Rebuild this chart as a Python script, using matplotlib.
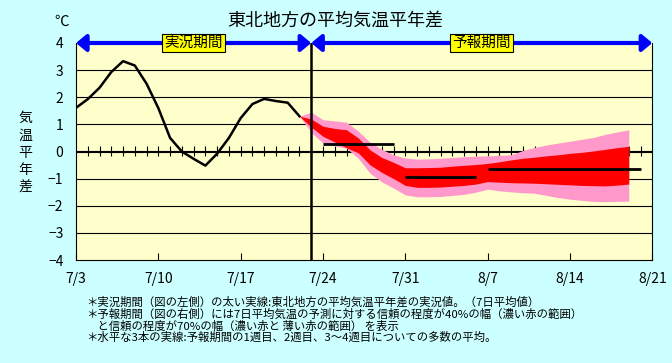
import matplotlib
matplotlib.use("Agg")
import matplotlib.pyplot as plt
from matplotlib.ticker import NullFormatter
import numpy as np

plt.rcParams['font.family'] = ['Noto Sans CJK JP', 'DejaVu Sans']

# ---- data (day index 0 = 7/3) ----
date_labels = ["7/3", "7/10", "7/17", "7/24", "7/31", "8/7", "8/14", "8/21"]
obs_vals = [1.61, 1.93, 2.35, 2.93, 3.33, 3.17, 2.50, 1.60, 0.50, 0.00,
            -0.27, -0.52, -0.08, 0.50, 1.23, 1.75, 1.94, 1.86, 1.80, 1.30]
fc_start = 19
p70_hi = [1.30, 1.45, 1.17, 1.13, 1.08, 0.75, 0.34, 0.08, -0.12, -0.24,
          -0.28, -0.27, -0.25, -0.22, -0.19, -0.17, -0.16, -0.14, -0.12, 0.04,
          0.15, 0.24, 0.31, 0.38, 0.45, 0.52, 0.63, 0.72, 0.80]
r40_hi = [1.30, 1.20, 0.93, 0.85, 0.80, 0.50, 0.06, -0.22, -0.40, -0.60,
          -0.60, -0.59, -0.58, -0.54, -0.51, -0.48, -0.44, -0.38, -0.31, -0.25,
          -0.21, -0.16, -0.12, -0.07, -0.03, 0.02, 0.08, 0.14, 0.19]
r40_lo = [1.30, 0.90, 0.56, 0.35, 0.14, -0.05, -0.49, -0.77, -1.00, -1.25,
          -1.32, -1.32, -1.31, -1.28, -1.25, -1.20, -1.11, -1.13, -1.15, -1.16,
          -1.17, -1.19, -1.21, -1.23, -1.25, -1.26, -1.27, -1.24, -1.20]
p70_lo = [1.30, 0.70, 0.31, 0.20, 0.12, -0.25, -0.80, -1.12, -1.35, -1.60,
          -1.67, -1.67, -1.66, -1.62, -1.58, -1.50, -1.39, -1.45, -1.49, -1.52,
          -1.54, -1.62, -1.70, -1.76, -1.80, -1.84, -1.85, -1.84, -1.83]
week_start = [21, 28, 35]
week_end = [27, 34, 48]
week_mean = [0.27, -0.93, -0.64]
divider_day = 20
last_day = 49

notes = [
    "＊実況期間（図の左側）の太い実線:東北地方の平均気温平年差の実況値。（7日平均値）",
    "＊予報期間（図の右側）には7日平均気温の予測に対する信頼の程度が40%の幅（濃い赤の範囲）",
    "　と信頼の程度が70%の幅（濃い赤と 薄い赤の範囲） を表示",
    "＊水平な3本の実線:予報期間の1週目、2週目、3～4週目についての多数の平均。",
]

# ---- figure ----
fig = plt.figure(figsize=(6.72, 3.63), dpi=100, facecolor="#CCFFFF")
ax = fig.add_axes([76 / 672, 1 - 260 / 363, 576.3 / 672, 217 / 363])
ax.set_facecolor("#FFFFCC")
ax.set_xlim(0, last_day)
ax.set_ylim(-4, 4)

for yv in range(-3, 4):
    ax.axhline(yv, color="k", lw=0.8, zorder=1)

obs_days = np.arange(len(obs_vals))
fc_days = np.arange(fc_start, fc_start + len(p70_hi))
ax.fill_between(fc_days, p70_lo, p70_hi, color="#FF99CC", lw=0, zorder=2)
ax.fill_between(fc_days, r40_lo, r40_hi, color="#FF0000", lw=0, zorder=3)
ax.plot(obs_days, obs_vals, color="k", lw=1.8, zorder=4)
ax.hlines(week_mean, week_start, week_end, color="k", lw=2.0, zorder=5)
ax.axvline(divider_day, color="k", lw=1.8, zorder=5)

# spines
ax.spines["top"].set_visible(False)
for s in ["left", "right", "bottom"]:
    ax.spines[s].set_linewidth(0.8)

ax.set_xticks(np.arange(0, last_day + 1, 7))
ax.set_xticklabels(date_labels)
ax.tick_params(axis="x", direction="in", length=5, width=0.8, pad=9, labelsize=10)
ax.set_yticks(range(-4, 5))
ax.set_yticklabels([str(v).replace("-", "\u2212") for v in range(-4, 5)])
ax.tick_params(axis="y", length=0, pad=9, labelsize=10)

# daily ticks on the zero line
sec = ax.secondary_xaxis(0.5)
sec.set_xticks(np.arange(1, last_day))
sec.xaxis.set_major_formatter(NullFormatter())
sec.tick_params(direction="inout", length=7, width=0.8)
for s in sec.spines.values():
    s.set_linewidth(0.8)

# period arrows
arrow = dict(arrowstyle="<|-|>,head_length=0.6,head_width=0.5", color="#0000FF",
             lw=3, shrinkA=0, shrinkB=0)
ax.annotate("", xy=(0, 4), xytext=(divider_day, 4), arrowprops=arrow,
            annotation_clip=False, zorder=6)
ax.annotate("", xy=(divider_day, 4), xytext=(last_day, 4), arrowprops=arrow,
            annotation_clip=False, zorder=6)
box = dict(boxstyle="square,pad=0.15", fc="#FFFF00", ec="k", lw=0.8)
ax.text(divider_day / 2, 4, "実況期間", ha="center", va="center", fontsize=10.5,
        bbox=box, zorder=7)
ax.text((divider_day + last_day) / 2, 4, "予報期間", ha="center", va="center",
        fontsize=10.5, bbox=box, zorder=7)

# texts
fig.text(335 / 672, 1 - 21 / 363, "東北地方の平均気温平年差", ha="center", va="center",
         fontsize=13)
fig.text(62 / 672, 1 - 22 / 363, "℃", ha="center", va="center", fontsize=10.5)
fig.text(25 / 672, 1 - 153 / 363, "気\n温\n平\n年\n差", ha="center", va="center",
         fontsize=10, linespacing=1.3)

note_y = [302.5, 314.2, 325.9, 337.6]
for txt, yy in zip(notes, note_y):
    fig.text(86 / 672, 1 - yy / 363, txt, ha="left", va="center", fontsize=8.2)

fig.savefig("out.png", dpi=100, facecolor=fig.get_facecolor())
